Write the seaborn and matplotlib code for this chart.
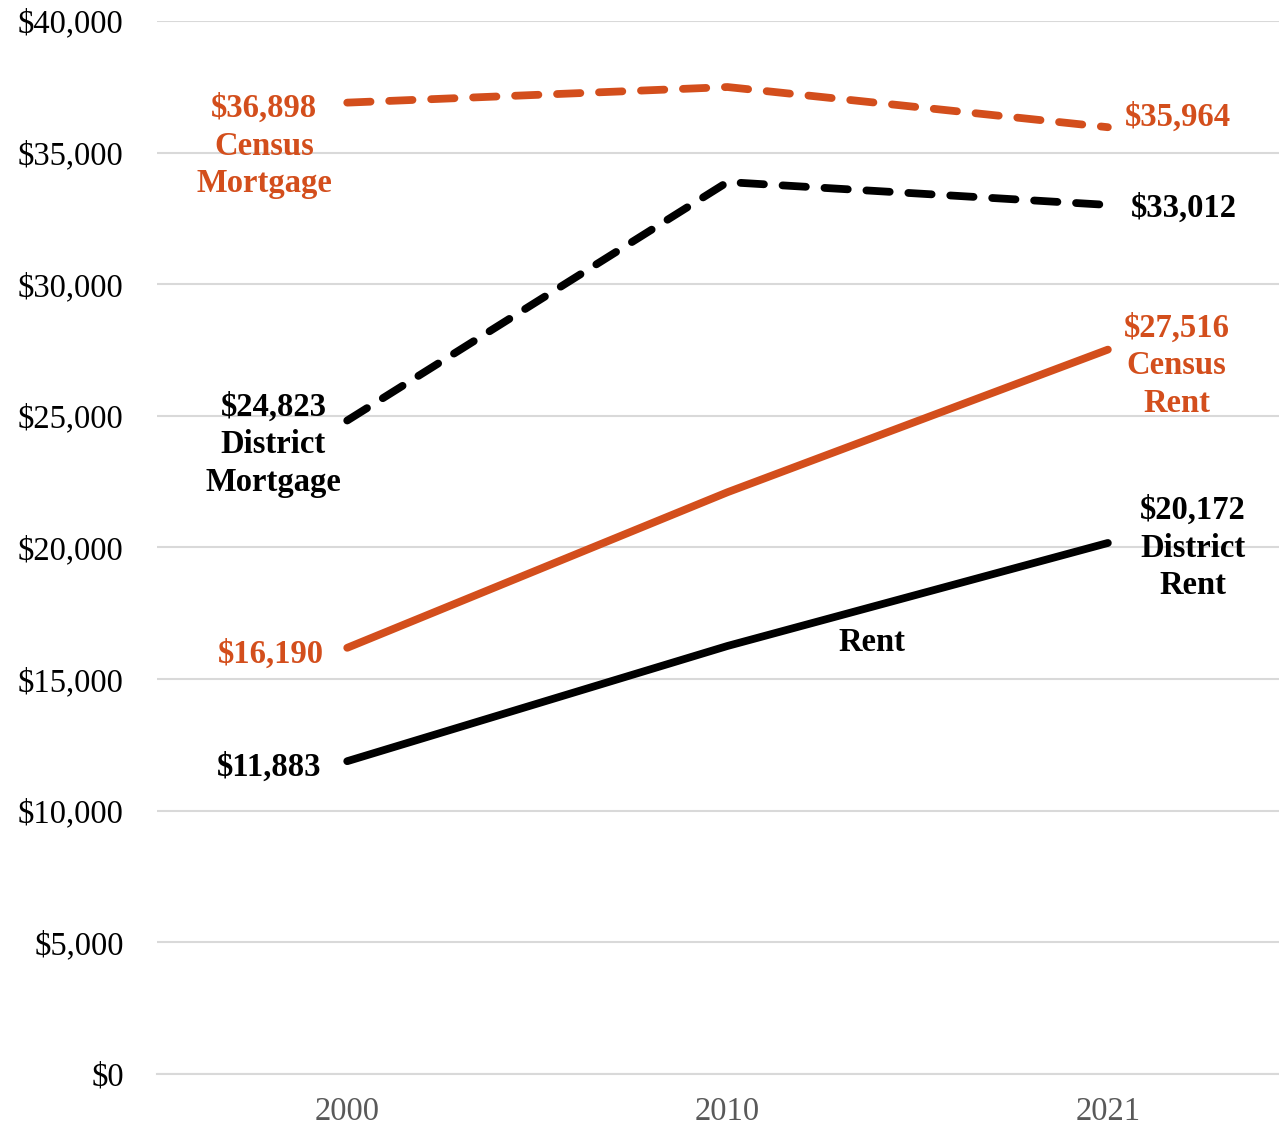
import matplotlib
matplotlib.use("Agg")
import matplotlib.pyplot as plt
import seaborn as sns
import pandas as pd

years = ["2000", "2010", "2021"]
census_mortgage = [36898, 37490, 35964]
district_mortgage = [24823, 33880, 33012]
census_rent = [16190, 22100, 27516]
district_rent = [11883, 16260, 20172]
y_ticks = [0, 5000, 10000, 15000, 20000, 25000, 30000, 35000, 40000]

ORANGE = "#D34E1C"
BLACK = "#000000"

sns.set_theme(style="white")
plt.rcParams["font.family"] = ["Liberation Serif", "DejaVu Serif"]

fig = plt.figure(figsize=(12.79, 11.27), dpi=100)
ax = fig.add_axes([0.1228, 0.047, 0.8772, 0.9344])

xpos = list(range(len(years)))
series = [
    (census_mortgage, ORANGE, True),
    (district_mortgage, BLACK, True),
    (census_rent, ORANGE, False),
    (district_rent, BLACK, False),
]
for vals, col, dashed in series:
    df = pd.DataFrame({"x": xpos, "y": vals})
    sns.lineplot(data=df, x="x", y="y", ax=ax, color=col, linewidth=5.6,
                 legend=False)
    ln = ax.lines[-1]
    if dashed:
        ln.set_dashes((3.0, 2.4))
        ln.set_dash_capstyle("round")
    ln.set_solid_capstyle("round")

ax.set_xlim(-0.5, 2.45)
ax.set_ylim(0, 40000)
ax.set_yticks(y_ticks)
ax.set_yticklabels([f"${v:,.0f}" for v in y_ticks], fontsize=23.5, color="black")
ax.set_xticks(xpos)
ax.set_xticklabels(years, fontsize=23.5, color="#595959")
ax.set_xlabel("")
ax.set_ylabel("")
ax.grid(axis="y", color="#D9D9D9", linewidth=1.5)
ax.grid(axis="x", visible=False)
for s in ["top", "right", "left"]:
    ax.spines[s].set_visible(False)
ax.spines["bottom"].set_color("#D9D9D9")
ax.spines["bottom"].set_linewidth(1.5)
ax.tick_params(axis="both", length=0)
ax.tick_params(axis="y", pad=24)
ax.tick_params(axis="x", pad=16)

def lab(x, y, s, c):
    ax.text(x, y, s, color=c, fontsize=23.5, fontweight="bold", ha="center",
            va="center", linespacing=1.29)

lab(-0.218, 35250, "$36,898\nCensus\nMortgage", ORANGE)
lab(-0.194, 23900, "$24,823\nDistrict\nMortgage", BLACK)
lab(-0.200, 15950, "$16,190", ORANGE)
lab(-0.205, 11660, "$11,883", BLACK)
lab(2.184, 36350, "$35,964", ORANGE)
lab(2.200, 32870, "$33,012", BLACK)
lab(2.181, 26900, "$27,516\nCensus\nRent", ORANGE)
lab(2.224, 19980, "$20,172\nDistrict\nRent", BLACK)
lab(1.380, 16380, "Rent", BLACK)

fig.savefig("out.png", dpi=100)
